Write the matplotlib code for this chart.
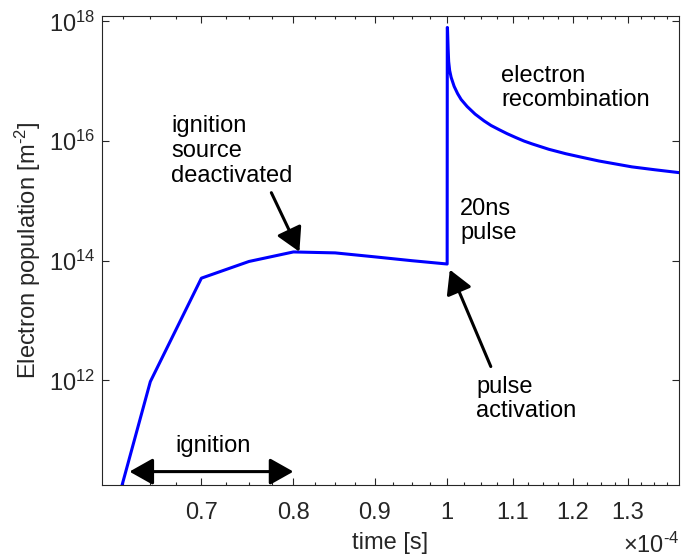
import matplotlib
matplotlib.use("Agg")
import matplotlib.pyplot as plt
import numpy as np

plt.rcParams["font.family"] = ["Liberation Sans", "DejaVu Sans"]
plt.rcParams["mathtext.fontset"] = "custom"
plt.rcParams["mathtext.rm"] = "Liberation Sans"
plt.rcParams["mathtext.it"] = "Liberation Sans:italic"
plt.rcParams["mathtext.default"] = "rm"

# electron population vs time (time in units of 1e-4 s)
t_ign = [0.60, 0.65, 0.70, 0.75, 0.80, 0.85, 0.90, 0.95, 1.00]
n_ign = [4e8, 9.5e11, 5.1e13, 9.7e13, 1.4e14, 1.35e14, 1.16e14, 1.0e14, 8.8e13]
t_rec = [1.0002, 1.00043, 1.00145, 1.00218, 1.00363, 1.00581, 1.0102, 1.0153,
         1.0205, 1.0294, 1.0414, 1.0551, 1.0658, 1.0783, 1.0908, 1.1051, 1.118,
         1.1309, 1.159, 1.1878, 1.2163, 1.2464, 1.3075, 1.3518, 1.3995]
n_rec = [7.9e17, 7.9e17, 3.4e17, 2.14e17, 1.51e17, 1.16e17, 8.2e16, 6.2e16,
         4.95e16, 3.78e16, 2.82e16, 2.17e16, 1.82e16, 1.55e16, 1.33e16, 1.14e16,
         1.0e16, 8.98e15, 7.28e15, 6.14e15, 5.34e15, 4.64e15, 3.7e15, 3.31e15,
         2.97e15]

xticks = [0.7, 0.8, 0.9, 1.0, 1.1, 1.2, 1.3]
xticklabels = ["0.7", "0.8", "0.9", "1", "1.1", "1.2", "1.3"]
yticks = [1e12, 1e14, 1e16, 1e18]
yticklabels = [r"$10^{12}$", r"$10^{14}$", r"$10^{16}$", r"$10^{18}$"]

t = np.array(t_ign + t_rec) * 1e-4
n = np.array(n_ign + n_rec)

fs = 17
fig = plt.figure(figsize=(6.82, 5.58), dpi=100)
ax = fig.add_axes([0.1496, 0.1308, 0.846, 0.8405])
ax.plot(t, n, color="#0000ff", lw=2.2)

ax.set_xscale("log")
ax.set_yscale("log")
ax.set_xlim(6.06e-5, 1.4e-4)
ax.set_ylim(10**10.25, 10**18.09)

ax.set_xticks(np.array(xticks) * 1e-4)
ax.set_xticklabels(xticklabels)
ax.set_xticks(np.arange(0.625, 1.38, 0.025) * 1e-4, minor=True)
ax.xaxis.set_minor_formatter(matplotlib.ticker.NullFormatter())
ax.set_yticks(yticks)
ax.set_yticklabels(yticklabels)
ax.yaxis.set_minor_locator(matplotlib.ticker.NullLocator())

dark = "#262626"
for s in ax.spines.values():
    s.set_color(dark)
    s.set_linewidth(0.8)
ax.tick_params(which="both", direction="in", top=True, right=True,
               colors=dark, labelsize=fs, width=0.8)
ax.tick_params(which="major", length=5)
ax.tick_params(which="minor", length=2.5)
ax.tick_params(axis="x", pad=12)
ax.tick_params(axis="y", pad=5)

ax.set_xlabel("time [s]", fontsize=fs, color=dark, labelpad=6)
ax.set_ylabel("Electron population [m$^{\u20102}$]", fontsize=fs, color=dark, labelpad=4)
fig.text(0.997, 0.0, "\u00d710$^{\u20104}$", ha="right", va="bottom", fontsize=fs, color=dark)

# annotations
astyle = "-|>,head_length=0.8,head_width=0.45"
ax.annotate("", xy=(0.807e-4, 1.41e14), xytext=(0.7748e-4, 1.37e15),
            arrowprops=dict(arrowstyle=astyle, mutation_scale=18, lw=2.2,
                            color="black", shrinkA=0, shrinkB=0))
ax.annotate("", xy=(1.0039e-4, 7.07e13), xytext=(1.0654e-4, 1.7e12),
            arrowprops=dict(arrowstyle=astyle, mutation_scale=18, lw=2.2,
                            color="black", shrinkA=0, shrinkB=0))
ax.annotate("", xy=(0.6306e-4, 2.98e10), xytext=(0.80e-4, 2.98e10),
            arrowprops=dict(arrowstyle="<|-|>,head_length=0.8,head_width=0.45",
                            mutation_scale=18, lw=2.2, color="black",
                            shrinkA=0, shrinkB=0))

txt = dict(fontsize=fs, color="black", linespacing=1.15)
fig.text(171 / 682, 1 - 151 / 558, "ignition\nsource\ndeactivated", va="center", ha="left", **txt)
fig.text(213 / 682, 1 - 446 / 558, "ignition", va="center", ha="center", **txt)
fig.text(460 / 682, 1 - 221 / 558, "20ns\npulse", va="center", ha="left", **txt)
fig.text(501 / 682, 1 - 88 / 558, "electron\nrecombination", va="center", ha="left", **txt)
fig.text(476 / 682, 1 - 399 / 558, "pulse\nactivation", va="center", ha="left", **txt)

fig.savefig("out.png", dpi=100)
